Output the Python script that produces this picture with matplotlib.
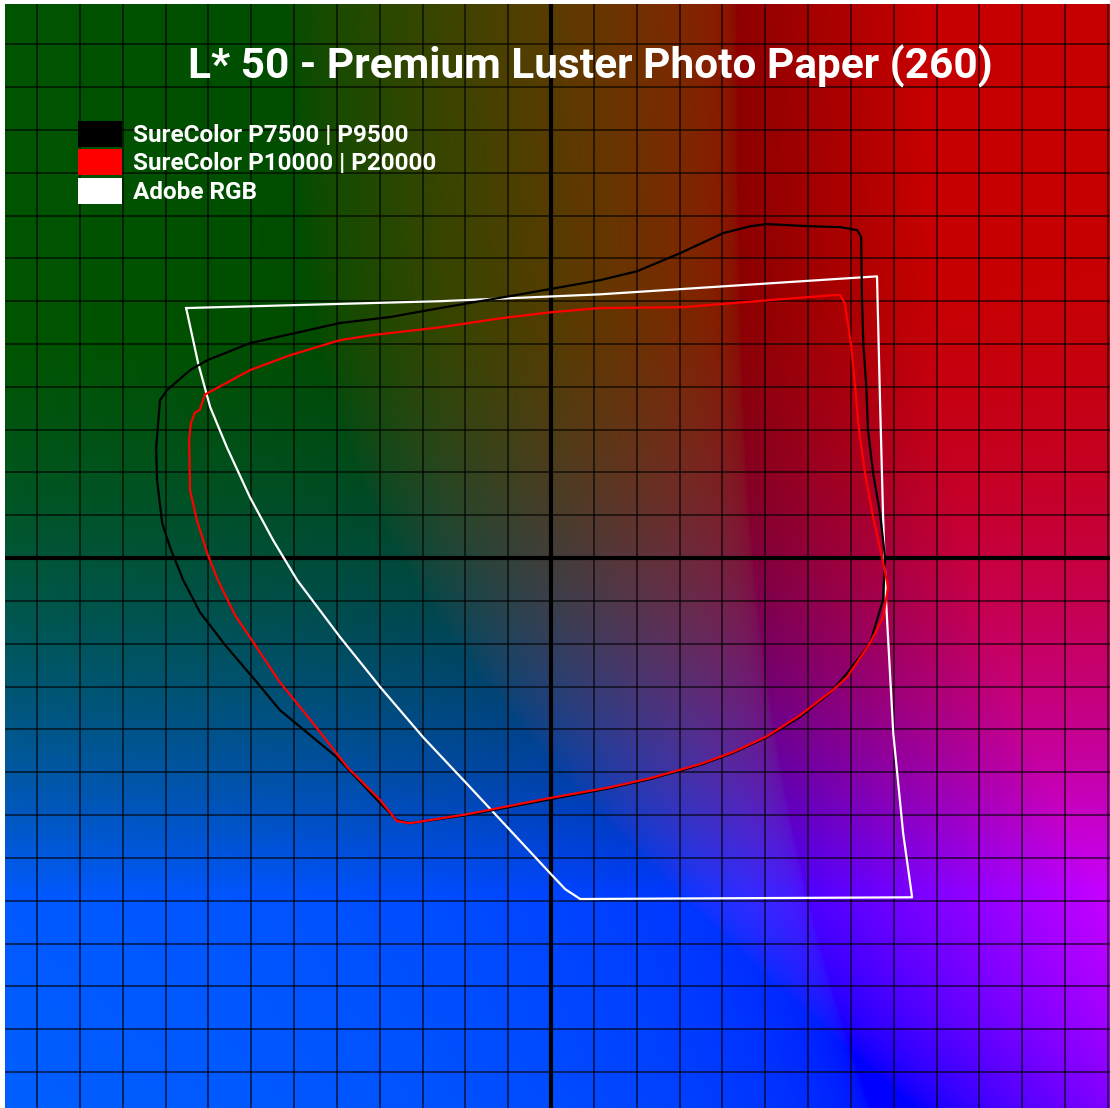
import numpy as np
import matplotlib.pyplot as plt
from matplotlib.patches import Patch

# gamut outlines at L* = 50 (a*, b*)
adobe_a = [-85.2, -25.9, 11.4, 76.1, 76.8, 77.5, 78.2, 79.9, 82.2, 84.3,
           6.8, 3.3, -0.2, -18.9, -29.9, -39.9, -49.3, -59.3,
           -64.9, -70.3, -75.7, -79.6, -82.4, -85.2]
adobe_b = [58.4, 60.0, 61.6, 65.8, 36.9, 10.5, -9.8, -40.9, -64.2, -79.2,
           -79.6, -77.3, -73.6, -53.5, -41.8, -30.1, -18.4, -5.1,
           4.2, 14.2, 25.9, 35.3, 45.5, 58.4]

p7500_a = [-91.3, -89.7, -84.3, -80.3, -70.3, -49.3, -37.6, -25.9, -7.2,
           11.4, 20.1, 30.1, 40.2, 46.5, 50.4, 60.5, 67.5, 71.5, 72.4, 72.6,
           72.9, 73.6, 74.0, 75.2, 76.8, 78.0, 77.5, 74.5, 69.1, 65.1, 58.1,
           50.4, 42.5, 34.8, 23.1, 13.8, -0.2, -19.6, -32.9, -36.0, -39.9,
           -50.0, -63.3, -69.1, -76.1, -82.0, -85.9, -89.0, -90.8, -92.0,
           -92.2, -91.3]
p7500_b = [36.9, 39.2, 43.9, 46.2, 50.2, 54.9, 56.3, 58.4, 61.6, 64.9,
           67.0, 71.2, 75.9, 77.5, 78.0, 77.5, 77.3, 76.6, 75.0, 60.2, 50.2,
           39.9, 29.9, 19.8, 10.5, 0.0, -9.8, -19.8, -26.9, -31.5, -37.1,
           -41.8, -45.5, -48.3, -51.6, -53.7, -56.3, -60.0, -61.9, -61.2,
           -57.2, -46.5, -35.5, -28.5, -20.3, -12.6, -5.1, 2.6, 8.2, 18.2,
           25.9, 36.9]

p10000_a = [-80.8, -70.3, -60.9, -49.3, -41.6, -25.9, -11.9, -0.2, 11.4,
            30.8, 50.4, 65.8, 67.5, 68.6, 70.0, 71.0, 71.9, 73.3, 75.0, 77.3,
            78.7, 77.5, 74.5, 69.1, 65.8, 58.1, 50.4, 42.5, 34.8, 23.1, 13.8,
            -0.2, -19.6, -32.9, -36.0, -39.9, -47.6, -55.6, -63.3, -69.1,
            -73.8, -77.8, -80.3, -82.7, -84.3, -84.5, -84.1, -83.2, -82.0,
            -80.8]
p10000_b = [38.2, 43.9, 47.4, 50.9, 52.1, 53.9, 56.0, 57.4, 58.4, 58.6,
            60.2, 61.4, 61.4, 59.5, 50.2, 39.9, 29.9, 19.8, 10.5, 0.0, -6.8,
            -13.8, -19.8, -27.8, -30.8, -36.7, -41.6, -45.3, -48.1, -51.4,
            -53.5, -56.0, -59.8, -61.9, -61.4, -56.5, -48.8, -38.5, -29.0,
            -20.3, -13.3, -5.1, 1.2, 8.9, 15.9, 27.8, 31.5, 33.9, 34.7, 38.2]

series_labels = ["SureColor P7500 | P9500", "SureColor P10000 | P20000",
                 "Adobe RGB"]
series_colors = ["#000000", "#ff0000", "#ffffff"]
title = "L* 50 - Premium Luster Photo Paper (260)"

a_lim = (-127.5, 130.5)
b_lim = (-128.4, 129.4)


def lab_plane(lightness, a, b):
    # Lab -> XYZ (D65) -> linear sRGB, clipped
    fy = (lightness + 16) / 116
    fx = fy + a / 500
    fz = fy - b / 200

    def finv(t):
        return np.where(t > 6 / 29, t ** 3, 3 * (6 / 29) ** 2 * (t - 4 / 29))

    xyz = np.stack([0.95047 * finv(fx), finv(fy) * np.ones_like(a),
                    1.08883 * finv(fz)], axis=-1)
    m = np.array([[3.2406, -1.5372, -0.4986],
                  [-0.9689, 1.8758, 0.0415],
                  [0.0557, -0.2040, 1.0570]])
    rgb = np.clip(xyz @ m.T, 0, 1)
    # tone curve tuned by eye to the reference rendering
    toe = np.array([0.0, 0.085, 0.0])
    gain = np.array([0.78, 0.566, 1.0])
    gamma = np.array([0.66, 0.366, 0.876])
    return np.clip(gain * np.clip(rgb - toe, 0, 1) ** gamma, 0, 1)


W, H = 1110, 1108
fig = plt.figure(figsize=(W / 100, H / 100), dpi=100)
ax = fig.add_axes([5 / W, 0, 1 - 5 / W, 1 - 4 / H])

aa, bb = np.meshgrid(np.linspace(*a_lim, 700), np.linspace(*b_lim, 700))
ax.imshow(lab_plane(50, aa, bb), extent=(*a_lim, *b_lim), origin="lower",
          interpolation="bilinear", aspect="auto", zorder=0)

for v in np.arange(-120, 131, 10):
    if v == 0:
        continue
    ax.axvline(v, color="black", lw=1.1, alpha=0.75, zorder=1)
    ax.axhline(v, color="black", lw=1.1, alpha=0.75, zorder=1)
ax.axvline(0, color="black", lw=3.0, zorder=1)
ax.axhline(0, color="black", lw=3.0, zorder=1)

ax.plot(p7500_a, p7500_b, color=series_colors[0], lw=1.6, zorder=3)
ax.plot(p10000_a, p10000_b, color=series_colors[1], lw=1.6, zorder=4)
ax.plot(adobe_a, adobe_b, color=series_colors[2], lw=1.6, zorder=2)

ax.set_xlim(*a_lim)
ax.set_ylim(*b_lim)
ax.axis("off")

fig.text(590 / W, 1 - 66 / H, title, color="white", fontsize=30.5,
         fontweight="bold", family="Roboto", ha="center", va="center")

handles = [Patch(facecolor=c, edgecolor="none") for c in series_colors]
ax.legend(handles, series_labels, loc="upper left",
          bbox_to_anchor=(73 / 1105, 1 - 117 / 1104), frameon=False,
          handlelength=1.8, handleheight=1.25, labelspacing=0.1,
          handletextpad=0.45, borderaxespad=0, borderpad=0,
          labelcolor="white",
          prop={"family": "Roboto", "weight": "bold", "size": 17.5})

fig.savefig("out.png", dpi=100)
